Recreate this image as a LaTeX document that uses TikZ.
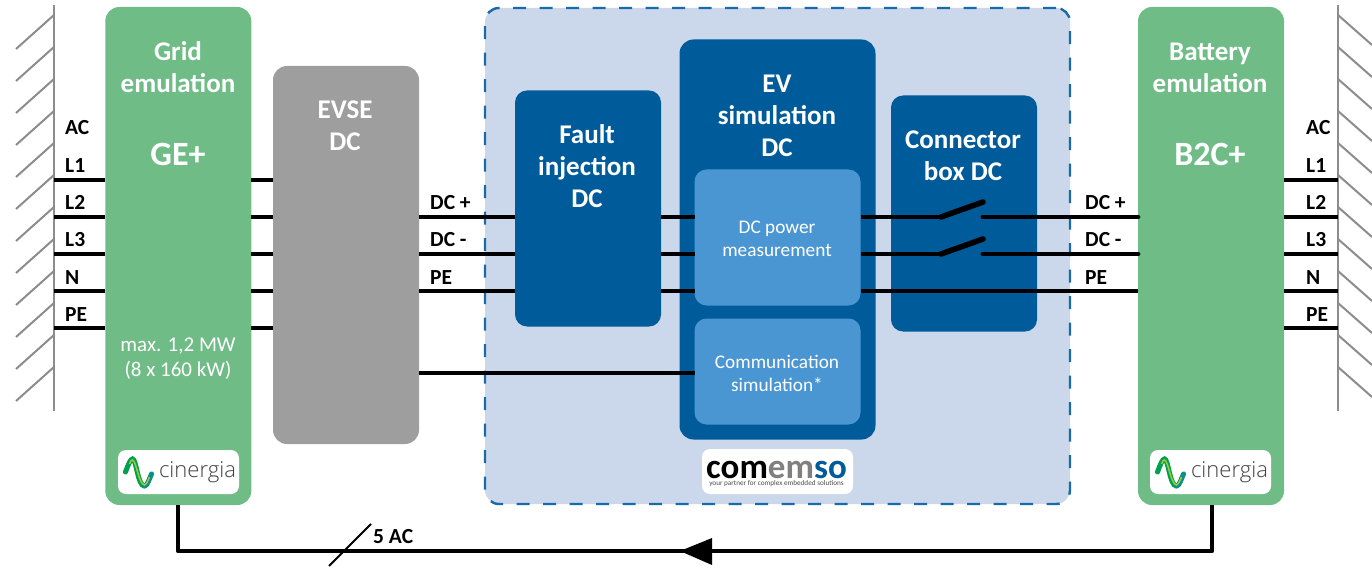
\documentclass[tikz,border=0pt]{standalone}
\usepackage{fontspec}
\setmainfont{Carlito}
\newfontfamily\logofont{Open Sans Light}
\definecolor{grn}{HTML}{70BC87}
\definecolor{gry}{HTML}{9E9E9E}
\definecolor{dkb}{HTML}{005B9A}
\definecolor{ltb}{HTML}{4A96D2}
\definecolor{bgb}{HTML}{CBD7EB}
\definecolor{dsh}{HTML}{1A6AA8}
\definecolor{wallc}{HTML}{8C8C8C}
\definecolor{wava}{HTML}{00A050}
\definecolor{wavb}{HTML}{0E8E8A}
\definecolor{wavc}{HTML}{9CCB3C}
\tikzset{
  x=1pt,y=-1pt,
  boxn/.style={rectangle,rounded corners=#1,inner sep=0pt,outer sep=0pt,anchor=north west},
  boxn/.default=14pt,
  wire/.style={line width=4.8pt,black},
  wall/.style={line width=2pt,wallc},
  title/.style={text=white,font=\bfseries\fontsize{27}{32}\selectfont,align=center,inner sep=0pt},
  sub/.style={text=white,font=\fontsize{19.3}{23}\selectfont,align=center,inner sep=0pt},
  subb/.style={text=white,font=\fontsize{21}{25}\selectfont,align=center,inner sep=0pt},
  big/.style={text=white,font=\bfseries\fontsize{34}{36}\selectfont,inner sep=0pt},
  lab/.style={text=black,font=\bfseries\fontsize{21.5}{22}\selectfont,inner sep=0pt,anchor=base west},
  logobg/.style={fill=white,rounded corners=8pt,inner sep=0pt,outer sep=0pt,anchor=north west},
  cintext/.style={inner sep=0pt,text=black!75,font=\logofont\fontsize{22}{24}\selectfont},
}
\newcommand{\wavelogo}[2]{%
  \draw[line width=5pt,wava,line cap=round] (#1-13,#2)
     .. controls (#1-10,#2-8) and (#1-8,#2-13) .. (#1-6,#2-13)
     .. controls (#1-2,#2-13) and (#1-1,#2+14) .. (#1+6,#2+14);
  \draw[line width=5pt,wavb,line cap=round] (#1+6,#2+14)
     .. controls (#1+9,#2+14) and (#1+11,#2+6) .. (#1+13,#2+2);
  \draw[line width=1.5pt,wavc] (#1-9,#2-8)
     .. controls (#1-8,#2-11) and (#1-7,#2-12) .. (#1-6,#2-12)
     .. controls (#1-2,#2-11) and (#1,#2+12) .. (#1+6,#2+13)
     .. controls (#1+8,#2+12) and (#1+10,#2+8) .. (#1+11,#2+5);
}
\begin{document}
\begin{tikzpicture}
\useasboundingbox (0,0) rectangle (1372,569);
% walls
\coordinate (wl1) at (54,5); \coordinate (wl2) at (54,411);
\coordinate (wr1) at (1338,5); \coordinate (wr2) at (1338,411);
\draw[wall] (wl1) -- (wl2);
\draw[wall] (wr1) -- (wr2);
\foreach \y in {15,47,79,111,143,175,207,239,271,303,335,367}{
  \draw[wall] (54,\y) -- (16,\y+34);
  \draw[wall] (1338,\y) -- (1372,\y+30);
}
% container
\node[boxn,fill=bgb,draw=dsh,line width=2.4pt,dash pattern=on 13pt off 13.5pt,minimum width=585pt,minimum height=496pt] (cont) at (485,8) {};
% boxes
\node[boxn,fill=grn,minimum width=146pt,minimum height=498pt] (grid) at (105.3,7) {};
\node[boxn,fill=gry,minimum width=146pt,minimum height=378pt] (evse) at (273,66) {};
\node[boxn=12pt,fill=dkb,minimum width=146pt,minimum height=236pt] (fault) at (515,90.5) {};
\node[boxn,fill=dkb,minimum width=196pt,minimum height=400pt] (ev) at (679.5,39.5) {};
\node[boxn=12pt,fill=ltb,minimum width=166pt,minimum height=136pt] (meas) at (694.5,169.5) {};
\node[boxn=12pt,fill=ltb,minimum width=166pt,minimum height=106pt] (comm) at (694.5,318.5) {};
\node[boxn=12pt,fill=dkb,minimum width=146pt,minimum height=236pt] (conn) at (891,95.5) {};
\node[boxn,fill=grn,minimum width=146pt,minimum height=498pt] (batt) at (1138,7) {};
% coordinates of rows
\foreach \n/\y in {a/180,b/217,c/254,d/291,e/328}{
  \coordinate (la\n) at (54,\y);
  \coordinate (ra\n) at (1338,\y);
}
\coordinate (rowp) at (0,217);
\coordinate (rown) at (0,254);
\coordinate (rowe) at (0,291);
\coordinate (rowc) at (0,373);
\coordinate (swpa) at (941,217); \coordinate (swpb) at (983,202); \coordinate (swpc) at (983,217);
\coordinate (swna) at (941,254); \coordinate (swnb) at (983,239); \coordinate (swnc) at (983,254);
% AC wires
\foreach \n in {a,b,c,d,e}{
  \draw[wire] (la\n) -- (grid.west |- la\n);
  \draw[wire] (grid.east |- la\n) -- (evse.west |- la\n);
  \draw[wire] (batt.east |- ra\n) -- (ra\n);
}
% DC wires
\foreach \r in {rowp,rown,rowe}{
  \draw[wire] (evse.east |- \r) -- (fault.west |- \r);
  \draw[wire] (fault.east |- \r) -- (meas.west |- \r);
}
\draw[wire] (evse.east |- rowc) -- (comm.west |- rowc);
\draw[wire] (meas.east |- rowe) -- (batt.west |- rowe);
\draw[wire] (meas.east |- rowp) -- (swpa);
\draw[wire] (meas.east |- rown) -- (swna);
\draw[line width=5.6pt,line cap=round] (swpa) -- (swpb);
\draw[line width=5.6pt,line cap=round] (swna) -- (swnb);
\draw[wire,line cap=round] (swpc) -- (batt.west |- swpc);
\draw[wire,line cap=round] (swnc) -- (batt.west |- swnc);
% bottom link
\coordinate (gbot) at (178,551); \coordinate (bbot) at (1212,551);
\coordinate (atip) at (680,551); \coordinate (ab1) at (712,538); \coordinate (ab2) at (712,565);
\draw[wire,line join=round] (grid.south -| gbot) -- (gbot) -- (bbot) -- (batt.south -| bbot);
\fill (atip) -- (ab1) -- (ab2) -- cycle;
\coordinate (s1) at (329,566); \coordinate (s2) at (371,524);
\draw[line width=2pt] (s1) -- (s2);
\node[lab] (five) at (373,543) {5 AC};
% titles
\node[title] (tgrid) at (178,67) {Grid\\emulation};
\node[big] (ge) at (178,154) {GE+};
\node[subb] (gmax) at (178,358.5) {max. 1,2 MW\\(8 x 160 kW)};
\node[title] (tevse) at (345,126) {EVSE\\DC};
\node[title] (tfault) at (587,166) {Fault\\injection\\DC};
\node[title] (tev) at (777,115.5) {EV\\simulation\\DC};
\node[title] (tconn) at (963,155.5) {Connector\\box DC};
\node[title] (tbatt) at (1210,67.5) {Battery\\emulation};
\node[big] (bc) at (1210,154) {B2C+};
\node[sub] (tmeas) at (777,239) {DC power\\measurement};
\node[sub] (tcomm) at (777,373.5) {Communication\\simulation*};
% labels
\foreach \n/\t/\y in {la1/AC/135,la2/L1/173,la3/L2/210,la4/L3/247,la5/N/284,la6/PE/321}
  \node[lab] (\n) at (65,\y) {\t};
\foreach \n/\t/\y in {ra1/AC/135,ra2/L1/173,ra3/L2/210,ra4/L3/247,ra5/N/284,ra6/PE/321}
  \node[lab] (\n) at (1306,\y) {\t};
\foreach \n/\t/\y in {dl1/DC +/210,dl2/DC -/247,dl3/PE/284}
  \node[lab] (\n) at (430,\y) {\t};
\foreach \n/\t/\y in {dr1/DC +/210,dr2/DC -/247,dr3/PE/284}
  \node[lab] (\n) at (1085,\y) {\t};
% logos
\node[logobg,minimum width=121pt,minimum height=44pt] (lg1) at (118,450) {};
\wavelogo{138.5}{472}
\node[cintext] (lt1) at (197.5,472) {cinergia};
\node[logobg,minimum width=121pt,minimum height=44pt] (lg2) at (1150,450) {};
\wavelogo{1170.5}{472}
\node[cintext] (lt2) at (1229.5,472) {cinergia};
\node[logobg,minimum width=151pt,minimum height=45pt] (lg3) at (702,449) {};
\node[inner sep=0pt,align=center,text=black!70,font=\fontsize{7.2}{7}\selectfont] (lt3) at (776.5,474) {{\bfseries\fontsize{35}{7}\selectfont\textcolor{black}{com}\textcolor{gray}{em}\textcolor{dkb}{so}}\\your partner for complex embedded solutions};
\end{tikzpicture}
\end{document}
